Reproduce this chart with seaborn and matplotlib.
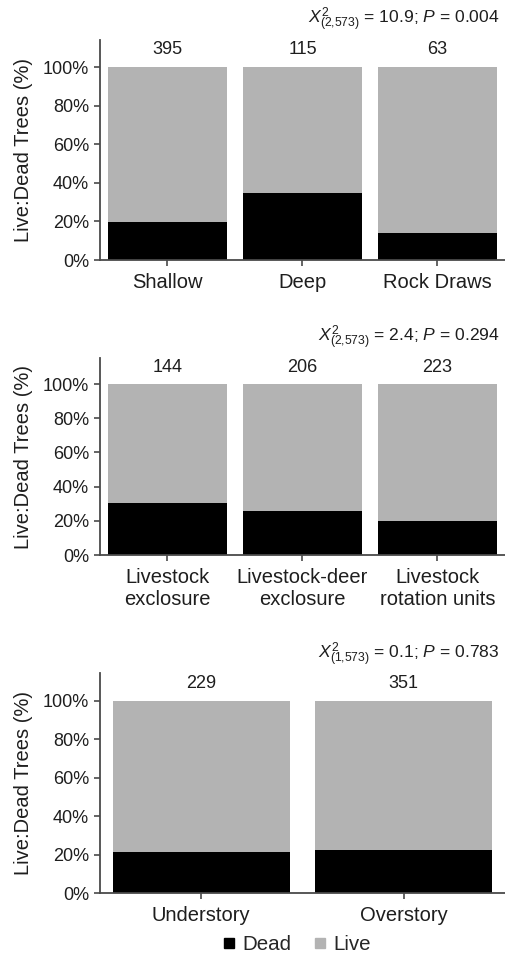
import matplotlib
matplotlib.use("Agg")
import matplotlib.pyplot as plt
from matplotlib.lines import Line2D
import seaborn as sns

sns.set_theme(style="ticks")
plt.rcParams["font.family"] = ["Liberation Sans", "DejaVu Sans"]
plt.rcParams["mathtext.fontset"] = "custom"
plt.rcParams["mathtext.rm"] = "Liberation Sans"
plt.rcParams["mathtext.it"] = "Liberation Sans:italic"

# Soil depth panel
soil_labels = ["Shallow", "Deep", "Rock Draws"]
soil_dead = [19.8, 34.5, 13.8]
soil_n = [395, 115, 63]
soil_stat = r"$X^{2}_{(2{,}573)}$ = 10.9; $P$ = 0.004"

# Grazing treatment panel
graze_labels = ["Livestock\nexclosure", "Livestock-deer\nexclosure", "Livestock\nrotation units"]
graze_dead = [30.2, 25.7, 20.1]
graze_n = [144, 206, 223]
graze_stat = r"$X^{2}_{(2{,}573)}$ = 2.4; $P$ = 0.294"

# Canopy position panel
canopy_labels = ["Understory", "Overstory"]
canopy_dead = [21.6, 22.5]
canopy_n = [229, 351]
canopy_stat = r"$X^{2}_{(1{,}573)}$ = 0.1; $P$ = 0.783"

y_ticks = [0, 20, 40, 60, 80, 100]
y_ticklabels = ["0%", "20%", "40%", "60%", "80%", "100%"]

DEAD_C = "#000000"
LIVE_C = "#b3b3b3"
AX_C = "#4a4a4a"
TXT_C = "#1e1e1e"

fig = plt.figure(figsize=(5.05, 9.55), dpi=100)

panels = [
    (soil_labels, soil_dead, soil_n, soil_stat, [0.198, 0.7277, 0.802, 0.2303], 114.0, 0.979),
    (graze_labels, graze_dead, graze_n, graze_stat, [0.198, 0.4188, 0.802, 0.2063], 115.2, 0.646),
    (canopy_labels, canopy_dead, canopy_n, canopy_stat, [0.198, 0.0646, 0.802, 0.2307], 114.3, 0.314),
]

for labels, dead, counts, stat, rect, ytop, stat_y in panels:
    ax = fig.add_axes(rect)
    live = [100 - d for d in dead]
    total = [d + l for d, l in zip(dead, live)]
    sns.barplot(x=labels, y=total, color=LIVE_C, saturation=1, width=0.875,
                edgecolor="none", ax=ax)
    sns.barplot(x=labels, y=dead, color=DEAD_C, saturation=1, width=0.875,
                edgecolor="none", ax=ax)
    ax.set_xlim(-0.5, len(labels) - 0.5)
    ax.set_ylim(0, ytop)
    ax.set_yticks(y_ticks)
    ax.set_yticklabels(y_ticklabels, fontsize=13, color=TXT_C)
    ax.tick_params(axis="x", labelsize=14.5, colors=AX_C, labelcolor=TXT_C,
                   length=4.3, width=1.2, pad=5)
    ax.tick_params(axis="y", colors=AX_C, labelcolor=TXT_C,
                   length=4.3, width=1.2, pad=3.6)
    for side in ("top", "right"):
        ax.spines[side].set_visible(False)
    for side in ("left", "bottom"):
        ax.spines[side].set_color(AX_C)
        ax.spines[side].set_linewidth(1.3)
    ax.set_ylabel("Live:Dead Trees (%)", fontsize=14.5, color=TXT_C, labelpad=7)
    for i, n in enumerate(counts):
        ax.text(i, 104.5, str(n), ha="center", va="bottom", fontsize=13, color=TXT_C)
    fig.text(0.99, stat_y, stat, ha="right", va="center", fontsize=12.6, color=TXT_C)

handles = [
    Line2D([], [], marker="s", linestyle="none", markersize=7.5, color=DEAD_C, label="Dead"),
    Line2D([], [], marker="s", linestyle="none", markersize=7.5, color=LIVE_C, label="Live"),
]
fig.legend(handles=handles, loc="center", bbox_to_anchor=(0.586, 0.011), ncol=2,
           frameon=False, fontsize=14.8, handletextpad=0.25, columnspacing=1.0,
           borderpad=0, handlelength=0.8)

fig.savefig("out.png", dpi=100)
